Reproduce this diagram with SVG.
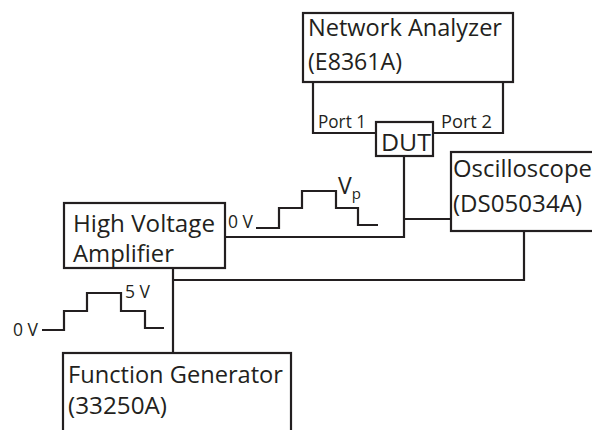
<svg xmlns="http://www.w3.org/2000/svg" width="592" height="430" viewBox="0 0 592 430">
<style>
.box{fill:#fff;stroke:#231f20;stroke-width:2.2}
.ln{fill:none;stroke:#231f20;stroke-width:2.2}
.t{font-family:"Open Sans","Noto Sans",sans-serif;fill:#231f20;font-size:23px}
.s{font-family:"Open Sans","Noto Sans",sans-serif;fill:#231f20;font-size:18px}
</style>
<rect width="592" height="430" fill="#fff"/>
<g id="connectors">
<polyline class="ln" points="313,82 313,133 376,133"/>
<polyline class="ln" points="503,82 503,133 433,133"/>
<polyline class="ln" points="404,156 404,237 225,237"/>
<line class="ln" x1="404" y1="219" x2="451" y2="219"/>
<polyline class="ln" points="524,231 524,280 173,280"/>
<line class="ln" x1="173" y1="268" x2="173" y2="353"/>
</g>
<g id="network-analyzer">
<rect class="box" x="303" y="13" width="210" height="69"/>
<text class="t" x="308" y="36" textLength="194" lengthAdjust="spacingAndGlyphs">Network Analyzer</text>
<text class="t" x="308" y="70" textLength="94" lengthAdjust="spacingAndGlyphs">(E8361A)</text>
<text class="s" x="318" y="128" textLength="48" lengthAdjust="spacingAndGlyphs">Port 1</text>
<text class="s" x="441" y="128" textLength="51" lengthAdjust="spacingAndGlyphs">Port 2</text>
</g>
<g id="dut">
<rect class="box" x="376" y="122" width="57" height="34"/>
<text class="t" x="381" y="151" textLength="50" lengthAdjust="spacingAndGlyphs">DUT</text>
</g>
<g id="oscilloscope">
<rect class="box" x="451" y="152" width="150" height="79"/>
<text class="t" x="453" y="177" textLength="139" lengthAdjust="spacingAndGlyphs">Oscilloscope</text>
<text class="t" x="453" y="212" textLength="129" lengthAdjust="spacingAndGlyphs">(DS05034A)</text>
</g>
<g id="hv-amplifier">
<rect class="box" x="64" y="203" width="161" height="65"/>
<text class="t" x="73" y="232" textLength="142" lengthAdjust="spacingAndGlyphs">High Voltage</text>
<text class="t" x="73" y="262" textLength="101" lengthAdjust="spacingAndGlyphs">Amplifier</text>
</g>
<g id="function-generator">
<rect class="box" x="63" y="353" width="228" height="90"/>
<text class="t" x="68" y="383" textLength="215" lengthAdjust="spacingAndGlyphs">Function Generator</text>
<text class="t" x="68" y="414" textLength="99" lengthAdjust="spacingAndGlyphs">(33250A)</text>
</g>
<g id="waveform-hv">
<polyline class="ln" points="256,228 279,228 279,208 302,208 302,191 336,191 336,208 358,208 358,225 378,225"/>
<text class="s" x="228" y="228" textLength="25" lengthAdjust="spacingAndGlyphs">0 V</text>
<text class="t" x="338" y="194">V<tspan font-size="15" dy="5">p</tspan></text>
</g>
<g id="waveform-fg">
<polyline class="ln" points="42,330 64,330 64,311 87,311 87,293 121,293 121,311 145,311 145,328 164,328"/>
<text class="s" x="13" y="336" textLength="25" lengthAdjust="spacingAndGlyphs">0 V</text>
<text class="s" x="125" y="298" textLength="25" lengthAdjust="spacingAndGlyphs">5 V</text>
</g>
</svg>
